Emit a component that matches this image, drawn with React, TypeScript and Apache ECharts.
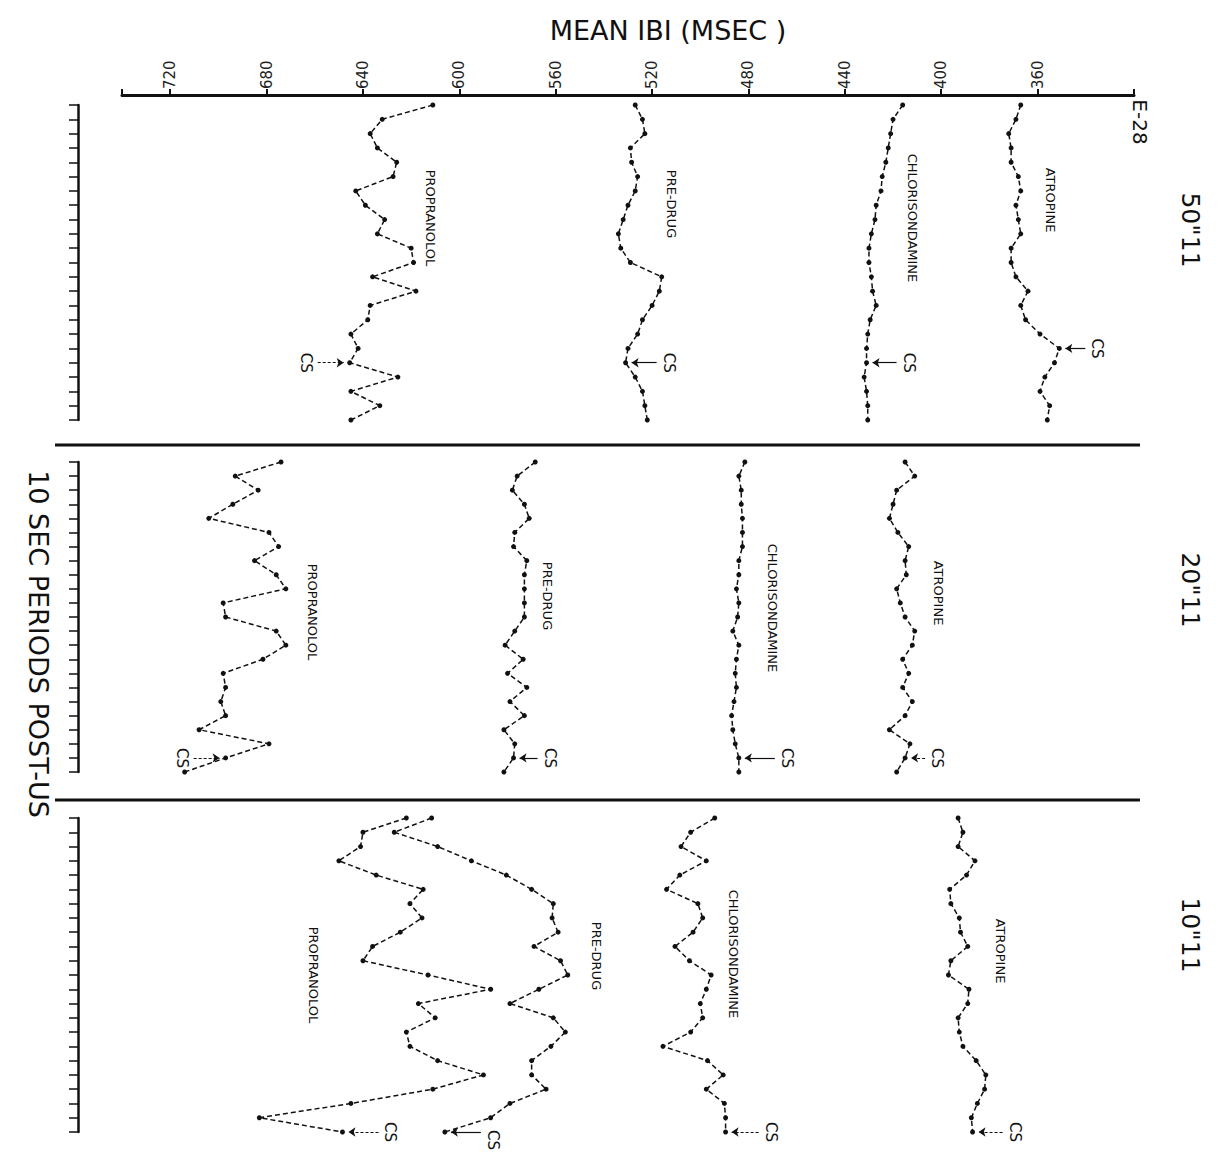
import { useEffect, useRef } from "react";
import * as echarts from "echarts";

// ---- categories (10 sec periods) and value ticks ----
const periods = ["1","2","3","4","5","6","7","8","9","10","11","12","13","14","15","16","17","18","19","20","21","22","23"];
const valueTicks = [720, 680, 640, 600, 560, 520, 480, 440, 400, 360];
const panelLabels = ['50"11', '20"11', '10"11'];
const seriesNames = ["ATROPINE", "CHLORISONDAMINE", "PRE-DRUG", "PROPRANOLOL"];

// ---- Panel 1 (50"11) ----
const atropine50 = [367, 369, 372, 371, 371, 368, 367, 369, 368, 367, 371, 371, 369, 364, 367, 365, 359, 351, 353, 357, 359, 355, 356];
const chlor50 = [416, 420, 421, 422, 423, 424.5, 425, 427, 427.5, 429, 430, 430, 429, 428.5, 427, 429.5, 430.5, 431, 431, 432, 431, 430.5, 430.5];
const pre50 = [527, 524, 523, 529, 528.5, 526, 527, 530, 532, 534, 533, 529, 516, 517, 520, 524, 526, 530, 531, 527, 524, 523, 522];
const prop50 = [611, 632, 637, 634, 626, 627.5, 643, 639, 631, 634, 620, 619, 636, 618, 637, 638, 645, 642, 645.5, 625.5, 645, 633, 645];

// ---- Panel 2 (20"11) ----
const atropine20 = [415, 411, 418.5, 420, 421.5, 418, 413.5, 415, 414.5, 418.5, 417, 415, 411, 412, 416, 413.5, 416, 412, 415, 421.5, 413, 415, 418.5];
const chlor20 = [481.5, 484, 483, 483, 482.5, 482.5, 482.5, 484, 484, 485, 484, 484.5, 486.5, 484, 485, 485.5, 485, 486, 487, 486.5, 485.5, 484, 484];
const pre20 = [568.5, 576, 578, 573, 571, 577, 577.5, 572, 573, 573, 573, 573, 577, 581, 573.5, 580, 572, 579, 573, 581.5, 577, 577.5, 581.5];
const prop20 = [674, 693, 683.5, 694, 704, 679, 675, 685, 676, 672, 698, 697, 676, 672, 681.5, 698, 697, 699, 697, 708, 679, 697, 714];

// ---- Panel 3 (10"11) ----
const atropine10 = [393, 391, 393, 386, 389.5, 396.5, 396, 392.5, 392, 389, 396, 397, 388.5, 389, 393, 392.5, 391, 385.5, 381.5, 382, 385, 387.5, 387];
const chlor10 = [494, 504, 508, 497.5, 508.5, 514, 501, 499, 503, 510.5, 504.5, 495.5, 497.5, 500, 499, 504, 515.5, 497, 490.5, 497.5, 490, 489.5, 489.5];
const pre10 = [611.5, 627, 609, 595, 580.5, 570, 561, 561.5, 559, 569, 558, 555, 567, 579, 561, 556, 562, 570, 570, 564, 579, 587, 606];
const prop10 = [622, 640, 641, 650, 634.5, 615, 620.5, 615.5, 624.5, 636, 640, 613, 587, 617, 610, 622, 620.5, 609, 590, 611, 645, 683, 648.5];

// CS (conditioned stimulus) period index per series, per panel
const csIndex = [
  [17, 18, 18, 18],
  [21, 21, 21, 21],
  [22, 22, 22, 22],
];

const panelData = [
  [atropine50, chlor50, pre50, prop50],
  [atropine20, chlor20, pre20, prop20],
  [atropine10, chlor10, pre10, prop10],
];

// ---- layout (not data) ----
const FONT = "DejaVu Sans";
const INK = "#111";
const GRIDS = [
  { top: 105, height: 315 },
  { top: 462, height: 310 },
  { top: 818, height: 314 },
];
const GRID_LEFT = 122;
const GRID_RIGHT = 86;
const X_MIN = 320;
const X_MAX = 740;
const PX_PER_MS = (1220 - GRID_LEFT - GRID_RIGHT) / (X_MAX - X_MIN);
// CS label offsets (screen px: right, down) relative to the CS point
const csOffset = [
  [[38, 0], [42, 0], [43, 0], [-44, 0]],
  [[32, 0], [48, 0], [36, 0], [-44, 0]],
  [[42, 0], [45, 0], [48, 8], [48, 0]],
];
const csDotted = [
  [false, false, false, true],
  [true, false, false, true],
  [true, true, false, true],
];
const nameLabelPos = [
  [[1050, 200], [912, 218], [671, 204], [430, 218]],
  [[938, 593], [772, 608], [547, 596], [312, 612]],
  [[1000, 951], [733, 954], [596, 956], [313, 975]],
];
const panelLabelY = [230, 590, 935];

function rotatedText(text: string, x: number, y: number, fontSize: number, weight = "normal") {
  return {
    type: "text",
    x,
    y,
    rotation: -Math.PI / 2,
    silent: true,
    style: {
      text,
      fontSize,
      fontFamily: FONT,
      fontWeight: weight,
      fill: INK,
      textAlign: "center",
      textVerticalAlign: "middle",
    },
  };
}

export default function App() {
  const ref = useRef<HTMLDivElement>(null);

  useEffect(() => {
    if (!ref.current) return;
    const chart = echarts.init(ref.current, undefined, { renderer: "svg" });

    const grid = GRIDS.map((g) => ({
      left: GRID_LEFT,
      right: GRID_RIGHT,
      top: g.top,
      height: g.height,
      containLabel: false,
    }));

    const xAxis = GRIDS.map((_, p) => ({
      type: "value",
      gridIndex: p,
      position: "top",
      offset: 10,
      inverse: true,
      min: X_MIN,
      max: X_MAX,
      interval: 40,
      show: p === 0,
      axisLine: { show: true, lineStyle: { color: INK, width: 3 } },
      axisTick: { show: true, length: 6, lineStyle: { color: INK, width: 2 } },
      splitLine: { show: false },
      axisLabel: {
        rotate: -90,
        fontSize: 15,
        fontFamily: FONT,
        color: "#222",
        margin: 6,
        formatter: (v: number) => (valueTicks.includes(v) ? String(v) : ""),
      },
    }));

    const yAxis = GRIDS.map((_, p) => ({
      type: "category",
      gridIndex: p,
      data: periods,
      inverse: true,
      boundaryGap: false,
      position: "left",
      offset: 44,
      axisLine: { show: true, lineStyle: { color: INK, width: 2.5 } },
      axisTick: { show: true, length: 9, interval: 0, lineStyle: { color: INK, width: 1.5 } },
      axisLabel: { show: false },
      splitLine: { show: false },
    }));

    const series: any[] = [];
    panelData.forEach((group, p) => {
      group.forEach((vals, s) => {
        const cs = csIndex[p][s];
        const [dx, dy] = csOffset[p][s];
        const sign = dx >= 0 ? 1 : -1;
        const vcs = vals[cs];
        series.push({
          type: "line",
          name: seriesNames[s],
          xAxisIndex: p,
          yAxisIndex: p,
          symbol: "circle",
          symbolSize: 5,
          showSymbol: true,
          lineStyle: { color: INK, width: 1.5, type: [5, 3] },
          itemStyle: { color: INK },
          label: { show: false },
          emphasis: { disabled: true },
          data: vals.map((v, i) =>
            i === cs
              ? {
                  value: [v, periods[i]],
                  label: {
                    show: true,
                    formatter: "CS",
                    position: "inside",
                    // offset is applied in the rotated (clockwise) text frame
                    offset: [dy, -dx],
                    rotate: -90,
                    fontSize: 15,
                    fontFamily: FONT,
                    color: INK,
                  },
                }
              : [v, periods[i]]
          ),
          markLine: {
            silent: true,
            animation: false,
            symbol: ["none", "arrow"],
            symbolSize: 7,
            label: { show: false },
            lineStyle: { color: INK, width: 1.2, type: csDotted[p][s] ? [3, 2] : "solid" },
            data: [
              [
                { coord: [vcs - (dx - 12 * sign) / PX_PER_MS, periods[cs]] },
                { coord: [vcs - (6 * sign) / PX_PER_MS, periods[cs]] },
              ],
            ],
          },
        });
      });
    });

    const graphic: any[] = [
      // panel separators
      { type: "line", shape: { x1: 55, y1: 445, x2: 1140, y2: 445 }, style: { stroke: INK, lineWidth: 3 }, silent: true },
      { type: "line", shape: { x1: 55, y1: 800, x2: 1140, y2: 800 }, style: { stroke: INK, lineWidth: 3 }, silent: true },
      // axis title
      {
        type: "text",
        x: 668,
        y: 30,
        silent: true,
        style: {
          text: "MEAN IBI (MSEC )",
          fontSize: 27,
          fontFamily: FONT,
          fill: INK,
          textAlign: "center",
          textVerticalAlign: "middle",
        },
      },
      rotatedText("10 SEC PERIODS POST-US", 38, 644, 27),
      rotatedText("E-28", 1140, 122, 20),
    ];
    panelLabels.forEach((t, p) => graphic.push(rotatedText(t, 1190, panelLabelY[p], 25)));
    nameLabelPos.forEach((row, p) =>
      row.forEach(([x, y], s) => graphic.push(rotatedText(seriesNames[s], x, y, 13)))
    );

    chart.setOption({
      animation: false,
      backgroundColor: "#fff",
      grid,
      xAxis,
      yAxis,
      series,
      graphic,
      tooltip: { show: false },
    });

    return () => chart.dispose();
  }, []);

  return (
    <div
      ref={ref}
      style={{ position: "relative", left: -8, top: -8, width: 1220, height: 1166, background: "#fff" }}
    />
  );
}
